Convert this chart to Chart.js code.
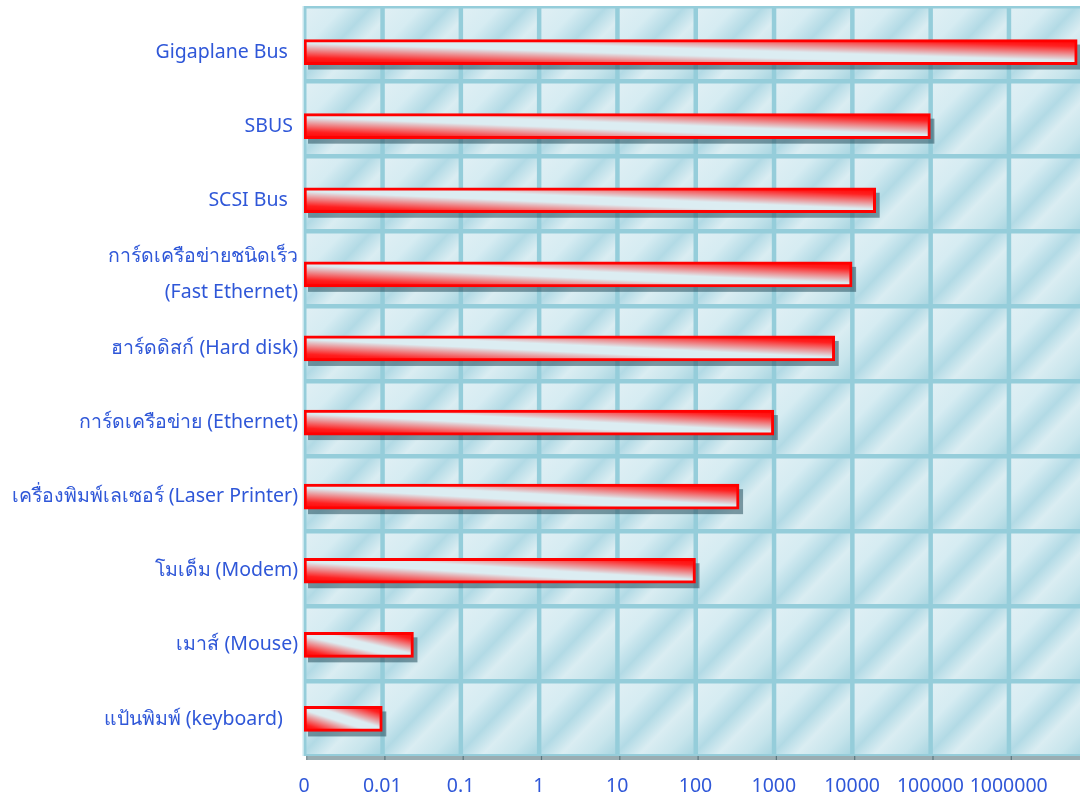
<!DOCTYPE html>
<html>
<head>
<meta charset="utf-8">
<script src="https://cdn.jsdelivr.net/npm/chart.js@4.4.1/dist/chart.umd.min.js"></script>
<style>
  html, body { margin: 0; padding: 0; background: #ffffff; overflow: hidden; }
  #wrap { width: 1080px; height: 798px; overflow: hidden; position: relative; }
  canvas { display: block; }
</style>
</head>
<body>
<div id="wrap"><canvas id="chart" width="1088" height="798"></canvas></div>
<script>
// Device categories, top to bottom
const categories = [
  "Gigaplane Bus  ",
  "SBUS ",
  "SCSI Bus  ",
  ["การ์ดเครือข่ายชนิดเร็ว", "(Fast Ethernet)"],
  "ฮาร์ดดิสก์ (Hard disk)",
  "การ์ดเครือข่าย (Ethernet)",
  "เครื่องพิมพ์เลเซอร์ (Laser Printer)",
  "โมเด็ม (Modem)",
  "เมาส์ (Mouse)",
  "แป้นพิมพ์ (keyboard)   "
];

// Data rate of each device (log scale)
const transferRates = [7500000, 100000, 20000, 10000, 6000, 1000, 360, 100, 0.025, 0.01];

// Axis ticks: the lowest tick is shown as "0"
const tickValues = [0.001, 0.01, 0.1, 1, 10, 100, 1000, 10000, 100000, 1000000];
const tickLabels = ["0", "0.01", "0.1", "1", "10", "100", "1000", "10000", "100000", "1000000"];
const axisMin = 0.001;
const axisMax = 10000000;

const TEXT_BLUE = '#2F57D8';
const FONT = "'Noto Sans', 'DejaVu Sans', sans-serif";
const BAR_H = 25;

// Diagonal red-white-red fill stretched over each bar
function barFill(context) {
  const chart = context.chart;
  const xs = chart.scales.x, ys = chart.scales.y;
  if (!xs || !ys || !xs.width) return '#ff0000';
  const v = context.raw;
  const x0 = xs.getPixelForValue(xs.min);
  const x1 = xs.getPixelForValue(v);
  const yc = ys.getPixelForValue(context.dataIndex);
  const w = Math.max(2, Math.round(x1 - x0));
  const h = BAR_H;
  const off = document.createElement('canvas');
  off.width = w; off.height = h;
  const g = off.getContext('2d');
  g.save();
  g.scale(w, h);
  const grad = g.createLinearGradient(0, 1, 1, 0);
  grad.addColorStop(0.00, '#ff0000');
  grad.addColorStop(0.14, '#ff1f1f');
  grad.addColorStop(0.43, '#dcedf2');
  grad.addColorStop(0.57, '#dcedf2');
  grad.addColorStop(0.86, '#ff1f1f');
  grad.addColorStop(1.00, '#ff0000');
  g.fillStyle = grad;
  g.fillRect(0, 0, 1, 1);
  g.restore();
  const pat = chart.ctx.createPattern(off, 'no-repeat');
  pat.setTransform(new DOMMatrix([1, 0, 0, 1, x0, yc - h / 2]));
  return pat;
}

// Tiled light-blue backdrop of the plot area
const tilePlugin = {
  id: 'tiles',
  beforeDraw(chart) {
    const { ctx, chartArea: a, scales: { x: xs } } = chart;
    const top = a.top - 9, bottom = a.bottom;
    const rows = categories.length;
    const rh = (bottom - top) / rows;
    const cols = tickValues.map(v => xs.getPixelForValue(v)).concat([xs.getPixelForValue(axisMax)]);
    ctx.save();
    ctx.fillStyle = '#95CDDA';
    ctx.fillRect(a.left, top, a.right - a.left, bottom - top);
    for (let r = 0; r < rows; r++) {
      for (let c = 0; c < cols.length - 1; c++) {
        const x0 = cols[c] + 2.5, x1 = cols[c + 1] - 2;
        const y0 = top + r * rh + 2.5, y1 = top + (r + 1) * rh - 2;
        const grad = ctx.createLinearGradient(x0, y0, x1, y1);
        grad.addColorStop(0.00, '#DFEFF4');
        grad.addColorStop(0.25, '#D6ECF2');
        grad.addColorStop(0.45, '#B2DAE5');
        grad.addColorStop(0.62, '#DAEDF2');
        grad.addColorStop(0.82, '#C8E5EC');
        grad.addColorStop(1.00, '#AAD6E1');
        ctx.fillStyle = grad;
        ctx.fillRect(x0, y0, x1 - x0, y1 - y0);
      }
    }
    // light left edge and shaded strip under the plot
    ctx.fillStyle = '#C8E6ED';
    ctx.fillRect(a.left - 1.5, top, 1.5, bottom - top);
    ctx.fillStyle = 'rgba(70,105,115,0.55)';
    ctx.fillRect(a.left + 3, bottom, a.right - a.left, 4);
    ctx.fillStyle = 'rgba(50,80,90,0.6)';
    cols.forEach(cx => ctx.fillRect(cx + 2, bottom, 1.2, 4));
    ctx.restore();
  }
};

// Drop shadow behind every bar, taken from the bar elements' geometry
const shadowPlugin = {
  id: 'barShadow',
  beforeDatasetsDraw(chart) {
    const c = chart.ctx;
    const meta = chart.getDatasetMeta(0);
    c.save();
    c.fillStyle = 'rgba(40,80,95,0.55)';
    meta.data.forEach(bar => {
      const { x, y, base, height } = bar.getProps(['x', 'y', 'base', 'height'], true);
      c.fillRect(base + 4, y - height / 2 + 5, x - base, height);
    });
    c.restore();
  }
};

new Chart(document.getElementById('chart'), {
  type: 'bar',
  data: {
    labels: categories,
    datasets: [{
      data: transferRates,
      backgroundColor: barFill,
      borderColor: '#ff0000',
      borderWidth: 3,
      borderSkipped: false,
      barThickness: BAR_H
    }]
  },
  options: {
    indexAxis: 'y',
    responsive: false,
    animation: false,
    events: [],
    layout: { padding: { left: 0, top: 15, right: 1, bottom: 0 } },
    plugins: { legend: { display: false }, tooltip: { enabled: false } },
    scales: {
      x: {
        type: 'logarithmic',
        min: axisMin,
        max: axisMax,
        grid: { display: false, drawTicks: false },
        border: { display: false },
        afterBuildTicks(scale) { scale.ticks = tickValues.map(v => ({ value: v })); },
        afterFit(scale) { scale.height = 42; scale.paddingLeft = 0; scale.paddingRight = 0; },
        ticks: {
          autoSkip: false,
          maxRotation: 0,
          padding: 19,
          color: TEXT_BLUE,
          font: { family: FONT, size: 19.5 },
          callback: (value, index) => tickLabels[index]
        }
      },
      y: {
        grid: { display: false, drawTicks: false },
        border: { display: false },
        afterFit(scale) { scale.width = 304; scale.paddingTop = 0; scale.paddingBottom = 0; },
        ticks: {
          autoSkip: false,
          padding: 6,
          color: TEXT_BLUE,
          font: (ctx) => ({ family: FONT, size: 19.5, lineHeight: ctx.index === 3 ? 1.85 : 1.2 })
        }
      }
    }
  },
  plugins: [tilePlugin, shadowPlugin]
});
</script>
</body>
</html>
